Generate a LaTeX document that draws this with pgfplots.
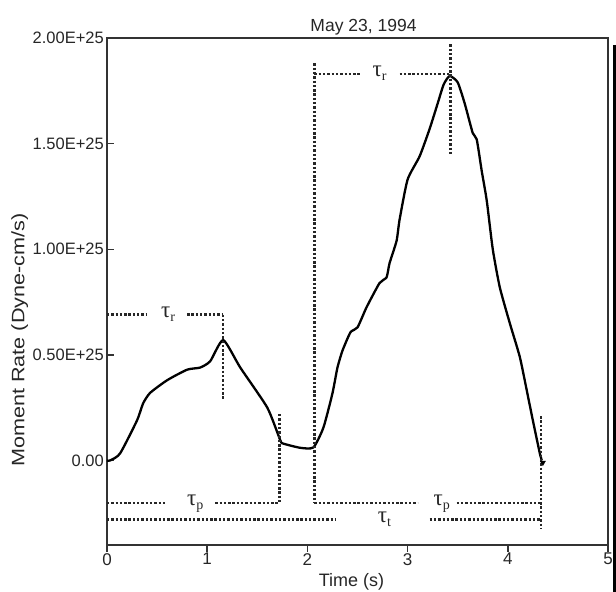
\documentclass[border=0pt]{standalone}
\usepackage{fontspec}
\setmainfont{Liberation Sans}
\newfontfamily\serifgr{Liberation Serif}
\usepackage{graphicx}
\usepackage{pgfplots}
\pgfplotsset{compat=1.18}
\tikzset{
  dotline/.style={line width=2.5bp, dash pattern=on 2.4bp off 1.9bp, black!85},
  tlab/.style={anchor=base, yshift=-3bp, inner sep=0pt, text=black!85, font=\serifgr\fontsize{23bp}{24bp}\selectfont},
}
\newcommand{\tl}[1]{τ\raisebox{-4bp}{\fontsize{14bp}{15bp}\selectfont #1}}
\begin{document}
\begin{tikzpicture}
\begin{axis}[
  scale only axis, width=501bp, height=507bp,
  xmin=0, xmax=5, ymin=-0.4, ymax=2.0,
  axis line style={line width=1.8bp, black!80},
  tick align=inside, tick pos=left,
  major tick length=7bp,
  tick style={line width=1.4bp, black!80},
  xtick={0,1,2,3,4,5}, xticklabels={0,1,2,3,4,5},
  ytick={0,0.5,1,1.5,2}, yticklabels={0.00,0.50E+25,1.00E+25,1.50E+25,2.00E+25},
  xtick style={yshift=-7bp},
  xticklabel style={anchor=north, inner sep=0pt, yshift=-8bp, text=black!85, font=\fontsize{17bp}{20bp}\selectfont},
  yticklabel style={anchor=east, inner sep=0pt, xshift=-3bp, text=black!85, font=\fontsize{16.5bp}{20bp}\selectfont},
  clip=false,
]
\addplot[line width=2.3bp, black, smooth, tension=0.35] coordinates {
(0,0) (0.03,0) (0.13,0.033) (0.30,0.19) (0.36,0.27) (0.43,0.32) (0.60,0.38)
(0.80,0.43) (0.93,0.44) (1.03,0.47) (1.16,0.57) (1.33,0.44) (1.60,0.25)
(1.73,0.095) (1.76,0.08) (1.93,0.06) (2.06,0.062) (2.16,0.156) (2.25,0.318)
(2.30,0.44) (2.35,0.52) (2.43,0.607) (2.50,0.63) (2.59,0.725) (2.72,0.84)
(2.79,0.867) (2.82,0.934) (2.89,1.04) (2.92,1.14) (3.00,1.33) (3.12,1.44)
(3.22,1.57) (3.30,1.69) (3.36,1.78) (3.42,1.82) (3.50,1.79) (3.57,1.69)
(3.65,1.55) (3.69,1.52) (3.74,1.37) (3.79,1.23) (3.85,1.0) (3.92,0.82)
(4.02,0.65) (4.12,0.49) (4.19,0.33) (4.25,0.19) (4.32,0.033) (4.34,0.0)
};
\addplot[only marks, mark=triangle*, mark size=3bp, mark options={rotate=180, black}] coordinates {(4.35,-0.01)};
% left tau_r
\draw[dotline] (0,0.69) -- (0.40,0.69);
\draw[dotline] (0.80,0.69) -- (1.16,0.69);
\draw[dotline] (1.16,0.69) -- (1.16,0.29);
\node[tlab] at (0.61,0.69) {\tl{r}};
% left tau_p
\draw[dotline] (1.72,0.22) -- (1.72,-0.2);
\draw[dotline] (0,-0.2) -- (0.60,-0.2);
\draw[dotline] (1.08,-0.2) -- (1.72,-0.2);
\node[tlab] at (0.88,-0.2) {\tl{p}};
% tau_t
\draw[dotline] (0,-0.28) -- (2.28,-0.28);
\draw[dotline] (3.22,-0.28) -- (4.33,-0.28);
\node[tlab] at (2.77,-0.28) {\tl{t}};
% right tau_p
\draw[dotline] (2.07,1.88) -- (2.07,-0.2);
\draw[dotline] (2.07,-0.2) -- (3.10,-0.2);
\draw[dotline] (3.49,-0.2) -- (4.33,-0.2);
\node[tlab] at (3.34,-0.2) {\tl{p}};
\draw[dotline] (4.33,0.21) -- (4.33,-0.32);
% top tau_r
\draw[dotline] (2.07,1.83) -- (2.54,1.83);
\draw[dotline] (2.92,1.83) -- (3.43,1.83);
\draw[dotline] (3.43,1.97) -- (3.43,1.45);
\node[tlab] at (2.72,1.83) {\tl{r}};
% title and labels
\node[anchor=base, inner sep=0pt, yshift=6bp, text=black!85, font=\fontsize{17.5bp}{20bp}\selectfont] at (2.56,2.0) {May 23, 1994};
\node[anchor=base, inner sep=0pt, yshift=-41bp, text=black!85, font=\fontsize{18bp}{20bp}\selectfont] at (2.44,-0.4) {Time (s)};
\node[rotate=90, inner sep=0pt, text=black!85, font=\fontsize{18bp}{20bp}\selectfont] at (-0.87,0.57) {\scalebox{1.2}[1]{Moment Rate (Dyne-cm/s)}};
\end{axis}
\draw[line width=3bp, black] ([xshift=6.5bp,yshift=-7bp]current axis.north east) -- ([xshift=6.5bp,yshift=-47bp]current axis.south east);
\pgfresetboundingbox
\path ([xshift=-107bp,yshift=-47bp]current axis.south west) rectangle ([xshift=8bp,yshift=38bp]current axis.north east);
\end{tikzpicture}
\end{document}
